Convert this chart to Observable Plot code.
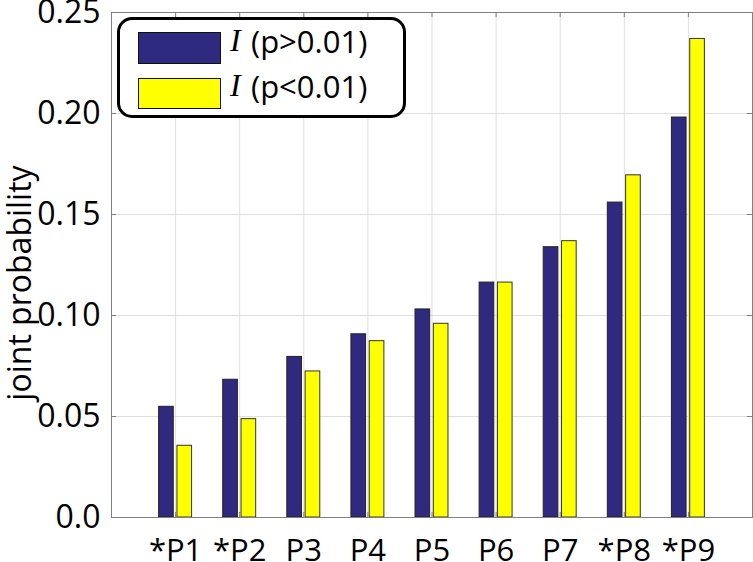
<!DOCTYPE html>
<html>
<head>
<meta charset="utf-8">
<script src="https://cdn.jsdelivr.net/npm/d3@7"></script>
<script src="https://cdn.jsdelivr.net/npm/@observablehq/plot@0.6"></script>
<style>
  html, body { margin: 0; padding: 0; background: #fff; }
  #wrap { position: relative; width: 753px; height: 562px; overflow: hidden; background: #fff; }
  #wrap svg { position: absolute; left: 0; top: 0; }
  #legend { position: absolute; left: 117px; top: 17px; width: 283px; height: 95px;
            border: 3px solid #000; border-radius: 15px; background: #fff; z-index: 2; }
  .sw { position: absolute; width: 81px; border: 1px solid #111; z-index: 3; }
  .lt { position: absolute; z-index: 3; white-space: nowrap; font-size: 31px; line-height: 31px;
        font-family: "Open Sans", sans-serif; color: #000; }
  .lt.i { font-family: "Liberation Serif", "DejaVu Serif", serif; font-style: italic; font-size: 32px; }
</style>
</head>
<body>
<div id="wrap"></div>
<script>
// ---- data ----
const categories = ["*P1", "*P2", "P3", "P4", "P5", "P6", "P7", "*P8", "*P9"];
const seriesNames = ["(p>0.01)", "(p<0.01)"];
const seriesColors = ["#2f2a80", "#ffff00"];
const pHigh = [0.0548, 0.0682, 0.0795, 0.0907, 0.1030, 0.1163, 0.1338, 0.1559, 0.1980];
const pLow  = [0.0355, 0.0487, 0.0723, 0.0873, 0.0959, 0.1163, 0.1368, 0.1694, 0.2369];
const yTicks = [0, 0.05, 0.10, 0.15, 0.20, 0.25];
const yTickLabels = ["0.0", "0.05", "0.10", "0.15", "0.20", "0.25"];
const yLabel = "joint probability";

// ---- build table ----
const positions = categories.map((c, i) => i + 1);
const rows = categories.flatMap((c, i) => [
  {cat: c, pos: i + 1, s: 0, value: pHigh[i]},
  {cat: c, pos: i + 1, s: 1, value: pLow[i]}
]);
// MATLAB grouped-bar geometry (2 series): offsets ±groupwidth/4, bar width 0.8*groupwidth/2
const gw = 2 / 3.5, half = 0.8 * gw / 4, off = gw / 4;
const bx1 = d => d.pos + (d.s === 0 ? -off : off) - half;
const bx2 = d => d.pos + (d.s === 0 ? -off : off) + half;

const plot = Plot.plot({
  width: 753,
  height: 562,
  marginLeft: 111,
  marginRight: 1,
  marginTop: 12,
  marginBottom: 45,
  style: {fontFamily: "'Open Sans', sans-serif", fontSize: "32px", color: "#000", background: "transparent", overflow: "visible"},
  x: {type: "linear", domain: [0, 10]},
  y: {domain: [0, 0.25]},
  marks: [
    Plot.gridX(positions, {stroke: "#dedede", strokeOpacity: 1, strokeWidth: 1}),
    Plot.gridY(yTicks, {stroke: "#dedede", strokeOpacity: 1, strokeWidth: 1}),
    Plot.rectY(rows.filter(d => d.s === 0), {x1: bx1, x2: bx2, y1: 0, y2: "value", fill: seriesColors[0], stroke: "#222", strokeWidth: 1}),
    Plot.rectY(rows.filter(d => d.s === 1), {x1: bx1, x2: bx2, y1: 0, y2: "value", fill: seriesColors[1], stroke: "#333", strokeWidth: 1}),
    // inward ticks on all four sides
    Plot.ruleY(yTicks, {x1: 0, x2: 0.08, stroke: "#808080"}),
    Plot.ruleY(yTicks, {x1: 9.92, x2: 10, stroke: "#808080"}),
    Plot.ruleX(positions, {y1: 0, y2: 0.0025, stroke: "#808080"}),
    Plot.ruleX(positions, {y1: 0.2475, y2: 0.25, stroke: "#808080"}),
    Plot.frame({stroke: "#808080", strokeWidth: 1}),
    Plot.axisY(yTicks, {tickFormat: d => yTickLabels[yTicks.indexOf(d)], tickSize: 0, tickPadding: 11, fontSize: 32, label: null}),
    Plot.axisX(positions, {tickFormat: d => categories[d - 1], tickSize: 0, tickPadding: 21, fontSize: 31, label: null}),
    Plot.text([yLabel], {frameAnchor: "left", dx: -91, dy: 18, rotate: -90, fontSize: 32, textAnchor: "middle", fill: "#000"})
  ]
});

const wrap = document.getElementById("wrap");
wrap.appendChild(plot);

// ---- legend (inside the axes, rounded box) ----
const legend = document.createElement("div");
legend.id = "legend";
wrap.appendChild(legend);
const swTops = [32, 78];
const textTops = [26, 71];
seriesNames.forEach((name, k) => {
  const sw = document.createElement("div");
  sw.className = "sw";
  sw.style.left = "138px";
  sw.style.top = swTops[k] + "px";
  sw.style.height = (k === 0 ? 30 : 29) + "px";
  sw.style.background = seriesColors[k];
  wrap.appendChild(sw);
  const ti = document.createElement("div");
  ti.className = "lt i";
  ti.style.left = "230px";
  ti.style.top = (textTops[k] - 1) + "px";
  ti.textContent = "I";
  wrap.appendChild(ti);
  const tt = document.createElement("div");
  tt.className = "lt";
  tt.style.left = "251px";
  tt.style.top = textTops[k] + "px";
  tt.textContent = name;
  wrap.appendChild(tt);
});
</script>
</body>
</html>
